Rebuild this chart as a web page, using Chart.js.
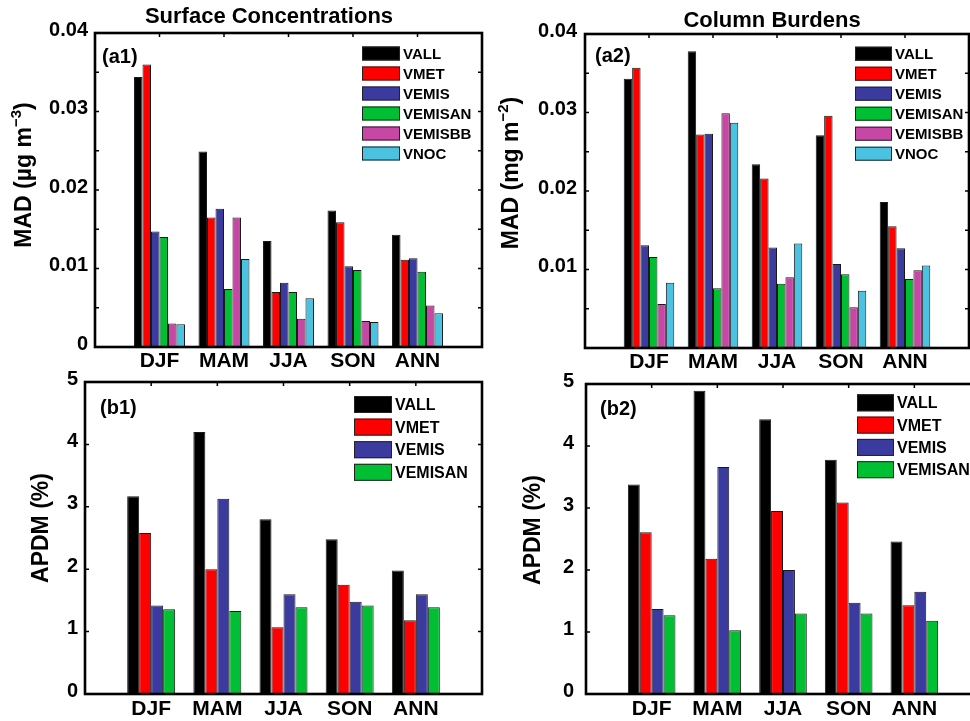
<!DOCTYPE html>
<html>
<head>
<meta charset="utf-8">
<script src="https://cdn.jsdelivr.net/npm/chart.js@4.4.1/dist/chart.umd.min.js"></script>
<style>
  html, body { margin: 0; padding: 0; background: #fff; overflow: hidden; width: 970px; height: 721px; }
  .panel { position: absolute; }
</style>
</head>
<body>
<div class="panel" style="left:0;top:360px"><canvas id="b1" width="485" height="361"></canvas></div>
<div class="panel" style="left:485px;top:360px"><canvas id="b2" width="500" height="361"></canvas></div>
<div class="panel" style="left:0;top:0"><canvas id="a1" width="485" height="375"></canvas></div>
<div class="panel" style="left:485px;top:0"><canvas id="a2" width="500" height="375"></canvas></div>
<script>
const seasons = ['DJF', 'MAM', 'JJA', 'SON', 'ANN'];
const runNames = ['VALL', 'VMET', 'VEMIS', 'VEMISAN', 'VEMISBB', 'VNOC'];
const runColors = ['#000000', '#ff0000', '#3b3b9f', '#00bf33', '#c648a4', '#4bc3e0'];

// (a1) surface concentrations, MAD in ug m-3
const surfVALL    = [0.0344, 0.0249, 0.0135, 0.0174, 0.0143];
const surfVMET    = [0.0360, 0.0165, 0.0070, 0.0159, 0.0111];
const surfVEMIS   = [0.0147, 0.0176, 0.0082, 0.0103, 0.0113];
const surfVEMISAN = [0.0140, 0.0074, 0.0070, 0.0098, 0.0096];
const surfVEMISBB = [0.0030, 0.0165, 0.0036, 0.0033, 0.0053];
const surfVNOC    = [0.0029, 0.0112, 0.0062, 0.0032, 0.0043];

// (a2) column burdens, MAD in mg m-2
const colVALL    = [0.0343, 0.0378, 0.0234, 0.0271, 0.0186];
const colVMET    = [0.0357, 0.0272, 0.0216, 0.0296, 0.0155];
const colVEMIS   = [0.0131, 0.0273, 0.0128, 0.0107, 0.0127];
const colVEMISAN = [0.0116, 0.0076, 0.0082, 0.0094, 0.0088];
const colVEMISBB = [0.0056, 0.0299, 0.0090, 0.0052, 0.0099];
const colVNOC    = [0.0083, 0.0287, 0.0133, 0.0073, 0.0105];

// (b1) surface concentrations, APDM in %
const surfApdmVALL    = [3.17, 4.20, 2.80, 2.48, 1.98];
const surfApdmVMET    = [2.58, 2.00, 1.07, 1.75, 1.18];
const surfApdmVEMIS   = [1.42, 3.13, 1.60, 1.48, 1.60];
const surfApdmVEMISAN = [1.36, 1.33, 1.39, 1.42, 1.39];

// (b2) column burdens, APDM in %
const colApdmVALL    = [3.38, 4.89, 4.43, 3.78, 2.46];
const colApdmVMET    = [2.61, 2.18, 2.95, 3.09, 1.43];
const colApdmVEMIS   = [1.37, 3.66, 2.00, 1.47, 1.65];
const colApdmVEMISAN = [1.27, 1.03, 1.30, 1.30, 1.18];

const aTicks = [0, 0.01, 0.02, 0.03, 0.04];
const bTicks = [0, 1, 2, 3, 4, 5];

const FONT = "'Liberation Sans', Arial, Helvetica, sans-serif";

// empty slot at both ends, like the matlab axis running 0..6
const padLabels = ['', ...seasons, ''];
const pad = arr => [null, ...arr, null];

// frame, inward ticks, legend, labels
const decor = {
    id: 'decor',
    afterDraw(chart, args, o) {
        const ctx = chart.ctx;
        const { left, right, top, bottom } = chart.chartArea;
        const ys = chart.scales.y;
        const xs = chart.scales.x;
        ctx.save();

        // inward ticks
        ctx.strokeStyle = '#000';
        ctx.lineWidth = 1.5;
        ctx.beginPath();
        for (let v = ys.min; v <= ys.max + 1e-9; v += o.minorStep) {
            const py = ys.getPixelForValue(v);
            ctx.moveTo(left, py); ctx.lineTo(left + 4, py);
            ctx.moveTo(right, py); ctx.lineTo(right - 4, py);
        }
        for (let i = 1; i <= seasons.length; i++) {
            const px = xs.getPixelForValue(i);
            ctx.moveTo(px, top); ctx.lineTo(px, top + 4);
        }
        ctx.stroke();

        // box
        ctx.lineWidth = 2.6;
        ctx.strokeRect(left, top, right - left, bottom - top);

        // legend
        const lg = o.legend;
        ctx.font = `bold ${lg.size}px ${FONT}`;
        ctx.textBaseline = 'middle';
        ctx.textAlign = 'left';
        chart.data.datasets.forEach((ds, i) => {
            const sx = right - lg.fromRight;
            const sy = top + lg.fromTop + i * lg.pitch;
            ctx.fillStyle = ds.backgroundColor;
            ctx.fillRect(sx, sy, lg.w, lg.h);
            ctx.lineWidth = 1;
            ctx.strokeStyle = '#222';
            ctx.strokeRect(sx + 0.5, sy + 0.5, lg.w - 1, lg.h - 1);
            ctx.fillStyle = '#000';
            ctx.fillText(ds.label, sx + lg.w + 3, sy + lg.h / 2 + 1);
        });

        // panel tag
        ctx.font = `bold 20px ${FONT}`;
        ctx.fillText(o.tag.text, o.tag.x, o.tag.y);

        // title
        if (o.title) {
            ctx.textAlign = 'center';
            ctx.font = `bold 22px ${FONT}`;
            ctx.fillText(o.title.text, o.title.x, o.title.y);
        }

        // y label with optional superscript
        const yl = o.ylabel;
        ctx.translate(yl.x, yl.y);
        ctx.rotate(-Math.PI / 2);
        ctx.textAlign = 'left';
        const big = `bold 23px ${FONT}`;
        const small = `bold 15px ${FONT}`;
        ctx.font = big;
        const w1 = ctx.measureText(yl.main).width;
        const w3 = ctx.measureText(yl.tail).width;
        ctx.font = small;
        const w2 = yl.sup ? ctx.measureText(yl.sup).width : 0;
        let cx = -(w1 + w2 + w3) / 2;
        ctx.font = big;
        ctx.fillText(yl.main, cx, 0);
        cx += w1;
        if (yl.sup) {
            ctx.font = small;
            ctx.fillText(yl.sup, cx, -8);
            cx += w2;
        }
        ctx.font = big;
        ctx.fillText(yl.tail, cx, 0);
        ctx.restore();
    }
};

function makePanel(id, names, series, g) {
    const datasets = series.map((vals, i) => ({
        label: names[i],
        data: pad(vals),
        backgroundColor: runColors[i],
        borderColor: '#1a1a1a',
        borderWidth: 1,
        categoryPercentage: g.catPct,
        barPercentage: 1.0
    }));
    return new Chart(document.getElementById(id), {
        type: 'bar',
        data: { labels: padLabels, datasets },
        options: {
            responsive: false,
            animation: false,
            events: [],
            layout: { padding: { left: 0, right: g.right, top: g.top, bottom: 0 } },
            plugins: {
                legend: { display: false },
                tooltip: { enabled: false },
                decor: g.decor
            },
            scales: {
                x: {
                    offset: false,
                    afterFit: s => { s.height = g.xH; },
                    grid: { display: false, drawTicks: false, offset: false },
                    border: { display: false },
                    ticks: {
                        autoSkip: false, maxRotation: 0, padding: g.xPad,
                        color: '#000', font: { family: FONT, size: 21, weight: 'bold' }
                    }
                },
                y: {
                    min: g.yTicks[0],
                    max: g.yTicks[g.yTicks.length - 1],
                    afterFit: s => { s.width = g.axisW; },
                    afterBuildTicks: s => { s.ticks = g.yTicks.map(v => ({ value: v })); },
                    grid: { display: false, drawTicks: false },
                    border: { display: false },
                    ticks: {
                        padding: g.yPad, labelOffset: -3,
                        color: '#000', font: { family: FONT, size: 20, weight: 'bold' },
                        callback: g.fmt
                    }
                }
            }
        },
        plugins: [decor]
    });
}

const fmtA = v => (v === 0 ? '0' : v.toFixed(2));
const fmtA2 = v => (v === 0 ? '' : v.toFixed(2));
const fmtB = v => String(v);

makePanel('a1', runNames,
    [surfVALL, surfVMET, surfVEMIS, surfVEMISAN, surfVEMISBB, surfVNOC], {
    catPct: 0.79, right: 3, top: 33, xH: 28, xPad: 2, axisW: 95, yPad: 7,
    yTicks: aTicks, fmt: fmtA,
    decor: {
        minorStep: 0.005,
        legend: { fromRight: 120, fromTop: 13.5, w: 38, h: 14, pitch: 20, size: 15 },
        tag: { text: '(a1)', x: 102, y: 57 },
        title: { text: 'Surface Concentrations', x: 269, y: 17 },
        ylabel: { x: 25, y: 175, main: 'MAD (\u00b5g m', sup: '\u22123', tail: ')' }
    }
});

makePanel('a2', runNames,
    [colVALL, colVMET, colVEMIS, colVEMISAN, colVEMISBB, colVNOC], {
    catPct: 0.79, right: 16, top: 34, xH: 27, xPad: 2, axisW: 100, yPad: 8,
    yTicks: aTicks, fmt: fmtA2,
    decor: {
        minorStep: 0.005,
        legend: { fromRight: 114, fromTop: 12.7, w: 37, h: 14, pitch: 20, size: 15 },
        tag: { text: '(a2)', x: 110, y: 56 },
        title: { text: 'Column Burdens', x: 287, y: 21 },
        ylabel: { x: 27, y: 173, main: 'MAD (mg m', sup: '\u22122', tail: ')' }
    }
});

makePanel('b1', runNames.slice(0, 4),
    [surfApdmVALL, surfApdmVMET, surfApdmVEMIS, surfApdmVEMISAN], {
    catPct: 0.725, right: 2, top: 22, xH: 27, xPad: 3, axisW: 85, yPad: 7,
    yTicks: bTicks, fmt: fmtB,
    decor: {
        minorStep: 1,
        legend: { fromRight: 128, fromTop: 14, w: 38, h: 17, pitch: 22.6, size: 16 },
        tag: { text: '(b1)', x: 100, y: 48 },
        title: null,
        ylabel: { x: 42, y: 168, main: 'APDM (%)', sup: '', tail: '' }
    }
});

makePanel('b2', runNames.slice(0, 4),
    [colApdmVALL, colApdmVMET, colApdmVEMIS, colApdmVEMISAN], {
    catPct: 0.725, right: 5, top: 23, xH: 27, xPad: 3, axisW: 101, yPad: 12,
    yTicks: bTicks, fmt: fmtB,
    decor: {
        minorStep: 1,
        legend: { fromRight: 123, fromTop: 10.3, w: 37, h: 17, pitch: 22.3, size: 16 },
        tag: { text: '(b2)', x: 115, y: 49 },
        title: null,
        ylabel: { x: 49, y: 170, main: 'APDM (%)', sup: '', tail: '' }
    }
});
</script>
</body>
</html>
